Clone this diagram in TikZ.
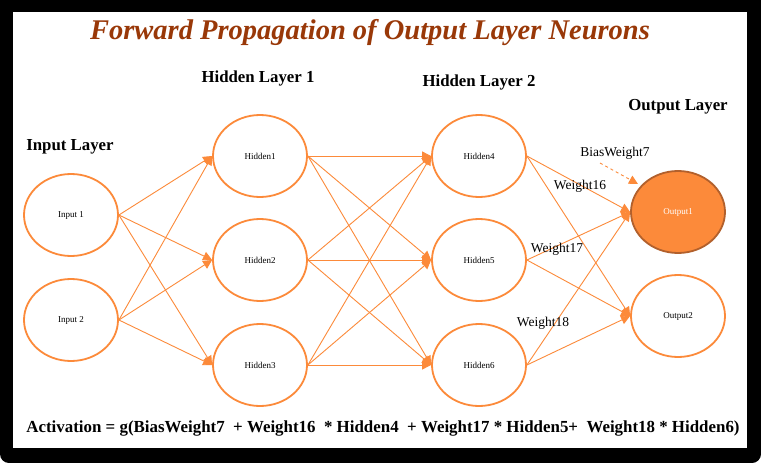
\documentclass[tikz,border=0pt]{standalone}
\usepackage{fontspec}
\setmainfont{Liberation Serif}
\usetikzlibrary{shapes.geometric,arrows.meta}
\definecolor{netorange}{RGB}{252,138,58}
\definecolor{outedge}{RGB}{178,96,44}
\definecolor{titlebrown}{RGB}{153,56,8}

\begin{document}
\begin{tikzpicture}[x=1pt,y=-1pt,
    neuron/.style={shape=ellipse, draw=netorange, line width=1.8pt, fill=white,
      minimum width=94pt, minimum height=82pt, inner sep=0pt, font=\fontsize{9}{11}\selectfont},
    link/.style={draw=netorange, line width=0.9pt, -{Triangle[length=9pt,width=9pt]}},
    layer/.style={font=\fontsize{16.8}{20}\bfseries\selectfont},
    wlabel/.style={font=\fontsize{13.5}{16}\selectfont}]
        % frame
        \fill[black] (0,0) -- (761,0) [rounded corners=9pt] -- (761,463) -- (0,463) [sharp corners] -- cycle;
        \fill[white] (13,12) rectangle (747,448);

        \node[text=titlebrown, font=\fontsize{28.5}{34}\bfseries\itshape\selectfont] (title) at (370,33) {Forward Propagation of Output Layer Neurons};

        \node[layer] (lin) at (70,147) {Input Layer};
        \node[layer] (lh1) at (258,78) {Hidden Layer 1};
        \node[layer] (lh2) at (479,82) {Hidden Layer 2};
        \node[layer] (lout) at (678,107) {Output Layer};

        \node[neuron] (In1) at (71,215) {Input 1};
        \node[neuron] (In2) at (71,320) {Input 2};
        \node[neuron] (H1) at (260,156) {Hidden1};
        \node[neuron] (H2) at (260,260) {Hidden2};
        \node[neuron] (H3) at (260,365) {Hidden3};
        \node[neuron] (H4) at (479,156) {Hidden4};
        \node[neuron] (H5) at (479,260) {Hidden5};
        \node[neuron] (H6) at (479,365) {Hidden6};
        \node[neuron, fill=netorange, draw=outedge, text=white] (Out1) at (678,212) {Output1};
        \node[neuron] (Out2) at (678,316) {Output2};

        \foreach \s in {In1,In2}
          \foreach \t in {H1,H2,H3}
            \draw[link] (\s.east) -- (\t.west);
        \foreach \s in {H1,H2,H3}
          \foreach \t in {H4,H5,H6}
            \draw[link] (\s.east) -- (\t.west);
        \foreach \s in {H4,H5,H6}
          \foreach \t in {Out1,Out2}
            \draw[link] (\s.east) -- (\t.west);

        \node[wlabel] (bias) at (615,153) {BiasWeight7};
        \coordinate (biasstart) at (600,163);
        \coordinate (biasend) at (638,184);
        \draw[link, dashed] (biasstart) -- (biasend);
        \node[wlabel] (w16) at (580,186) {Weight16};
        \node[wlabel] (w17) at (557,249) {Weight17};
        \node[wlabel] (w18) at (543,323) {Weight18};

        \node[font=\fontsize{16.9}{20}\bfseries\selectfont] (act) at (383,428)
          {Activation = g(BiasWeight7~ + Weight16~ * Hidden4~ + Weight17 * Hidden5+~ Weight18 * Hidden6)};
\end{tikzpicture}
\end{document}
